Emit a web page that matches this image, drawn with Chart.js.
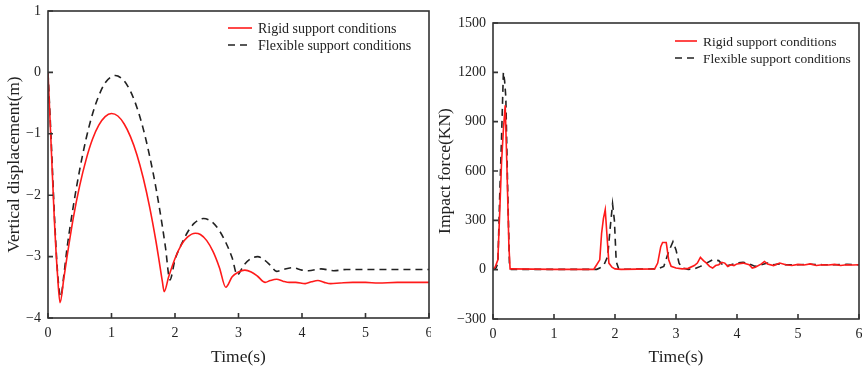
<!DOCTYPE html>
<html>
<head>
<meta charset="utf-8">
<script src="https://cdn.jsdelivr.net/npm/chart.js@4"></script>
<style>
  body { margin: 0; background: #fff; }
  #wrap { position: relative; width: 862px; height: 370px; }
  canvas { position: absolute; top: 0; }
</style>
</head>
<body>
<div id="wrap">
  <canvas id="dispChart" width="431" height="370" style="left:0"></canvas>
  <canvas id="forceChart" width="431" height="370" style="left:431px"></canvas>
</div>
<script>
// legend labels
const seriesNames = ['Rigid support conditions', 'Flexible support conditions'];

// vertical displacement (m) vs time (s)
const dispRigidT = [0, 0.05, 0.1, 0.15, 0.19, 0.25, 0.3, 0.4, 0.5, 0.6, 0.7, 0.8, 0.9, 1.0, 1.1, 1.2, 1.3, 1.4, 1.5, 1.6, 1.7, 1.75, 1.8, 1.83, 1.9, 2.0, 2.1, 2.2, 2.32, 2.4, 2.5, 2.6, 2.7, 2.8, 2.9, 3.0, 3.1, 3.2, 3.3, 3.42, 3.5, 3.6, 3.7, 3.8, 3.9, 4.05, 4.15, 4.25, 4.35, 4.45, 4.6, 4.8, 5.0, 5.2, 5.5, 6.0];
const dispRigid  = [0, -1.2, -2.4, -3.3, -3.75, -3.35, -3.0, -2.36, -1.84, -1.42, -1.09, -0.86, -0.72, -0.67, -0.71, -0.84, -1.05, -1.34, -1.72, -2.19, -2.75, -3.07, -3.4, -3.57, -3.33, -3.03, -2.81, -2.68, -2.62, -2.64, -2.74, -2.92, -3.18, -3.5, -3.33, -3.25, -3.22, -3.25, -3.32, -3.42, -3.39, -3.37, -3.4, -3.42, -3.42, -3.44, -3.41, -3.39, -3.42, -3.44, -3.43, -3.42, -3.42, -3.43, -3.42, -3.42];
const dispFlexT = [0, 0.05, 0.1, 0.15, 0.2, 0.25, 0.3, 0.4, 0.5, 0.6, 0.7, 0.8, 0.9, 1.0, 1.06, 1.1, 1.2, 1.3, 1.4, 1.5, 1.6, 1.7, 1.8, 1.85, 1.92, 2.0, 2.1, 2.2, 2.3, 2.45, 2.6, 2.7, 2.8, 2.9, 2.98, 3.05, 3.1, 3.2, 3.3, 3.4, 3.5, 3.6, 3.7, 3.85, 4.0, 4.1, 4.3, 4.5, 4.7, 5.0, 5.5, 6.0];
const dispFlex  = [0, -1.1, -2.3, -3.25, -3.65, -3.3, -2.86, -2.17, -1.58, -1.08, -0.68, -0.38, -0.17, -0.07, -0.05, -0.06, -0.14, -0.31, -0.57, -0.92, -1.36, -1.88, -2.5, -2.85, -3.38, -3.05, -2.8, -2.6, -2.46, -2.38, -2.45, -2.58, -2.77, -3.02, -3.3, -3.2, -3.12, -3.03, -3.0, -3.05, -3.14, -3.24, -3.21, -3.18, -3.22, -3.23, -3.2, -3.23, -3.21, -3.21, -3.21, -3.21];

// impact force (KN) vs time (s)
const forceRigidT = [0, 0.04, 0.08, 0.11, 0.14, 0.17, 0.2, 0.23, 0.26, 0.28, 0.3, 1.0, 1.65, 1.7, 1.75, 1.78, 1.81, 1.84, 1.87, 1.9, 1.95, 2.0, 2.1, 2.65, 2.7, 2.75, 2.78, 2.84, 2.88, 2.92, 3.0, 3.1, 3.2, 3.3, 3.35, 3.4, 3.45, 3.5, 3.55, 3.6, 3.65, 3.7, 3.75, 3.8, 3.85, 3.9, 3.95, 4.0, 4.1, 4.2, 4.25, 4.3, 4.4, 4.45, 4.5, 4.6, 4.7, 4.8, 4.9, 5.0, 5.1, 5.2, 5.3, 5.4, 5.5, 5.6, 5.7, 5.8, 5.9, 6.0];
const forceRigid  = [0, 20, 60, 350, 650, 850, 1000, 600, 150, 5, 5, 2, 2, 30, 60, 220, 310, 365, 200, 40, 15, 5, 2, 5, 40, 140, 165, 165, 60, 20, 10, 5, 8, 25, 40, 75, 55, 40, 20, 10, 25, 30, 45, 40, 20, 30, 25, 35, 40, 30, 10, 15, 35, 50, 35, 25, 40, 30, 25, 32, 28, 35, 25, 30, 28, 32, 25, 30, 28, 30];
const forceFlexT = [0, 0.05, 0.08, 0.11, 0.14, 0.17, 0.19, 0.21, 0.24, 0.27, 0.3, 1.0, 1.7, 1.75, 1.82, 1.88, 1.92, 1.96, 1.99, 2.02, 2.06, 2.1, 2.7, 2.8, 2.88, 2.95, 3.0, 3.05, 3.1, 3.2, 3.3, 3.4, 3.5, 3.6, 3.7, 3.75, 3.8, 3.9, 4.0, 4.1, 4.2, 4.3, 4.4, 4.5, 4.6, 4.7, 4.8, 5.0, 5.2, 5.4, 5.6, 5.8, 6.0];
const forceFlex  = [0, 10, 40, 450, 800, 1200, 1150, 1050, 500, 30, 2, 2, 2, 10, 30, 80, 250, 400, 300, 50, 5, 2, 5, 20, 110, 170, 120, 40, 10, 2, 5, 20, 40, 60, 55, 35, 20, 30, 40, 45, 35, 20, 30, 40, 30, 35, 30, 30, 33, 30, 30, 32, 30];

// ticks
const timeTicks = [0, 1, 2, 3, 4, 5, 6];
const dispTicks = [1, 0, -1, -2, -3, -4];
const forceTicks = [1500, 1200, 900, 600, 300, 0, -300];

const serif = '"Liberation Serif", "DejaVu Serif", serif';
const ink = '#222';

function pts(xs, ys) {
    return xs.map((x, i) => ({ x: x, y: ys[i] }));
}

// frame, inner tick marks and in-plot legend
const framePlugin = {
    id: 'frame',
    afterDraw(chart, args, opts) {
        const ctx = chart.ctx;
        const a = chart.chartArea;
        const xs = chart.scales.x, ys = chart.scales.y;
        ctx.save();
        ctx.strokeStyle = '#333';
        ctx.lineWidth = 1.6;
        ctx.strokeRect(a.left, a.top, a.right - a.left, a.bottom - a.top);
        ctx.beginPath();
        xs.ticks.forEach(t => {
            const px = xs.getPixelForValue(t.value);
            ctx.moveTo(px, a.bottom);
            ctx.lineTo(px, a.bottom - 5);
        });
        ys.ticks.forEach(t => {
            const py = ys.getPixelForValue(t.value);
            ctx.moveTo(a.left, py);
            ctx.lineTo(a.left + 5, py);
        });
        ctx.stroke();

        // legend
        ctx.font = opts.fontSize + 'px ' + serif;
        ctx.textBaseline = 'middle';
        chart.data.datasets.forEach((ds, i) => {
            const y = opts.y + i * opts.gap;
            ctx.strokeStyle = ds.borderColor;
            ctx.lineWidth = ds.borderWidth;
            ctx.setLineDash(ds.borderDash || []);
            ctx.beginPath();
            ctx.moveTo(opts.x, y);
            ctx.lineTo(opts.x + opts.len, y);
            ctx.stroke();
            ctx.setLineDash([]);
            ctx.fillStyle = ink;
            ctx.fillText(ds.label, opts.x + opts.len + 6, y + 1);
        });
        ctx.restore();
    }
};

function makeOptions(cfg) {
    return {
        responsive: false,
        animation: false,
        layout: { padding: { top: cfg.top, right: cfg.right, left: 0, bottom: 0 } },
        plugins: {
            legend: { display: false },
            tooltip: { enabled: false },
            frame: cfg.legend
        },
        scales: {
            x: {
                type: 'linear',
                min: 0,
                max: 6,
                afterBuildTicks: s => { s.ticks = timeTicks.map(v => ({ value: v })); },
                afterFit: s => { s.height = cfg.xHeight; s.paddingLeft = 0; s.paddingRight = 0; },
                grid: { display: false, drawTicks: false },
                border: { display: false },
                ticks: { padding: 7, color: ink, font: { family: serif, size: 14 }, maxRotation: 0 },
                title: { display: true, text: 'Time(s)', color: ink, font: { family: serif, size: 17.5 }, padding: { top: 0, bottom: 2 } }
            },
            y: {
                type: 'linear',
                min: cfg.yMin,
                max: cfg.yMax,
                afterBuildTicks: s => { s.ticks = cfg.yTicks.map(v => ({ value: v })); },
                afterFit: s => { s.width = cfg.yWidth; s.paddingTop = 0; s.paddingBottom = 0; },
                grid: { display: false, drawTicks: false },
                border: { display: false },
                ticks: {
                    padding: 7, color: ink, font: { family: serif, size: 14 },
                    callback: v => String(v).replace('-', '\u2212')
                },
                title: { display: true, text: cfg.yTitle, color: ink, font: { family: serif, size: 17.5 }, padding: { top: 4, bottom: 0 } }
            }
        }
    };
}

function makeDatasets(rigid, flex, tension) {
    return [{
        label: seriesNames[0],
        data: rigid,
        borderColor: '#ff1a1a',
        borderWidth: 1.6,
        pointRadius: 0,
        tension: tension,
        cubicInterpolationMode: tension ? 'monotone' : 'default'
    }, {
        label: seriesNames[1],
        data: flex,
        borderColor: '#222',
        borderWidth: 1.6,
        borderDash: [7, 5],
        pointRadius: 0,
        tension: tension,
        cubicInterpolationMode: tension ? 'monotone' : 'default'
    }];
}

new Chart(document.getElementById('dispChart'), {
    type: 'line',
    data: { datasets: makeDatasets(pts(dispRigidT, dispRigid), pts(dispFlexT, dispFlex), 0.4) },
    options: makeOptions({
        top: 11, right: 2, xHeight: 52, yWidth: 48,
        yMin: -4, yMax: 1, yTicks: dispTicks,
        yTitle: 'Vertical displacement(m)',
        legend: { x: 228, y: 28, gap: 17, len: 24, fontSize: 14 }
    }),
    plugins: [framePlugin]
});

new Chart(document.getElementById('forceChart'), {
    type: 'line',
    data: { datasets: makeDatasets(pts(forceRigidT, forceRigid), pts(forceFlexT, forceFlex), 0) },
    options: makeOptions({
        top: 23, right: 3, xHeight: 51, yWidth: 62,
        yMin: -300, yMax: 1500, yTicks: forceTicks,
        yTitle: 'Impact force(KN)',
        legend: { x: 244, y: 41, gap: 17, len: 22, fontSize: 13.5 }
    }),
    plugins: [framePlugin]
});
</script>
</body>
</html>
